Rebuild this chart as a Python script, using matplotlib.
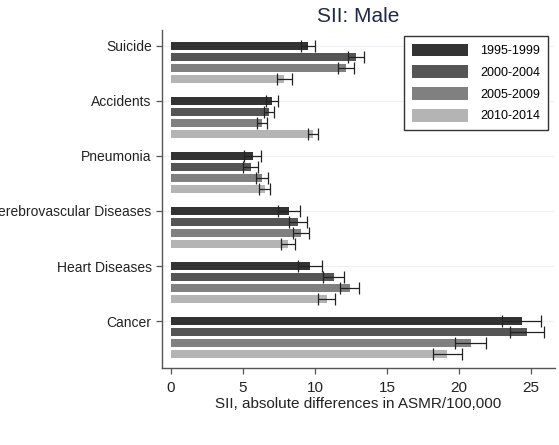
import matplotlib
matplotlib.use("Agg")
import matplotlib.pyplot as plt
import numpy as np
from matplotlib.patches import Patch

causes = ["Suicide", "Accidents", "Pneumonia", "Cerebrovascular Diseases", "Heart Diseases", "Cancer"]
periods = ["1995-1999", "2000-2004", "2005-2009", "2010-2014"]

sii_1995 = [9.53, 7.01, 5.67, 8.19, 9.63, 24.35]
sii_2000 = [12.85, 6.81, 5.53, 8.82, 11.32, 24.72]
sii_2005 = [12.15, 6.30, 6.32, 9.03, 12.41, 20.83]
sii_2010 = [7.87, 9.84, 6.50, 8.10, 10.81, 19.20]

err_1995 = [0.50, 0.43, 0.58, 0.79, 0.84, 1.33]
err_2000 = [0.54, 0.37, 0.50, 0.62, 0.73, 1.20]
err_2005 = [0.53, 0.36, 0.42, 0.54, 0.66, 1.08]
err_2010 = [0.53, 0.35, 0.39, 0.49, 0.61, 0.99]

values = [sii_1995, sii_2000, sii_2005, sii_2010]
errors = [err_1995, err_2000, err_2005, err_2010]
colors = ["#333333", "#555555", "#808080", "#b4b4b4"]

plt.rcParams['font.family'] = ['Liberation Sans', 'DejaVu Sans']

fig = plt.figure(figsize=(5.59, 4.45), dpi=100)
ax = fig.add_axes([162/559, 1-368/445, 393/559, 338/445])

group_pos = np.arange(len(causes)) * 5
for k in range(4):
    y = group_pos + k
    ax.barh(y, values[k], height=0.8, color=colors[k], edgecolor='none', zorder=2)
    ax.errorbar(values[k], y, xerr=errors[k], fmt='none', ecolor='#222222',
                elinewidth=0.9, capsize=4, capthick=0.9, zorder=3)

for gp in group_pos:
    ax.axhline(gp, color='#eef1f3', lw=0.8, zorder=0)

ax.set_ylim(29.27, -1.45)
ax.set_xlim(-0.625, 26.67)
ax.set_yticks(group_pos)
ax.set_yticklabels(causes, fontsize=10)
ax.set_xticks([0, 5, 10, 15, 20, 25])
ax.set_xticklabels(["0", "5", "10", "15", "20", "25"], fontsize=11)
ax.set_xlabel("SII, absolute differences in ASMR/100,000", fontsize=11, labelpad=2, color='#222222')
for s in ['top', 'right']:
    ax.spines[s].set_visible(False)
for s in ['left', 'bottom']:
    ax.spines[s].set_color('#555555')
    ax.spines[s].set_linewidth(1.0)
ax.tick_params(axis='both', colors='#555555', labelcolor='#222222', length=4, width=0.9)
ax.tick_params(axis='x', pad=5)

ax.set_title("SII: Male", fontsize=15, color='#1e2a4a', pad=6, x=0.5)

handles = [Patch(facecolor=c, edgecolor='none') for c in colors]
leg = ax.legend(handles, periods, loc='upper right', bbox_to_anchor=(0.982, 0.982),
                fontsize=9, handlelength=4.5, handleheight=1.2, labelspacing=0.65,
                handletextpad=1.0, borderpad=0.6, borderaxespad=0, fancybox=False,
                framealpha=1, edgecolor='#333333')
leg.get_frame().set_linewidth(1.0)

fig.savefig("out.png", dpi=100)
